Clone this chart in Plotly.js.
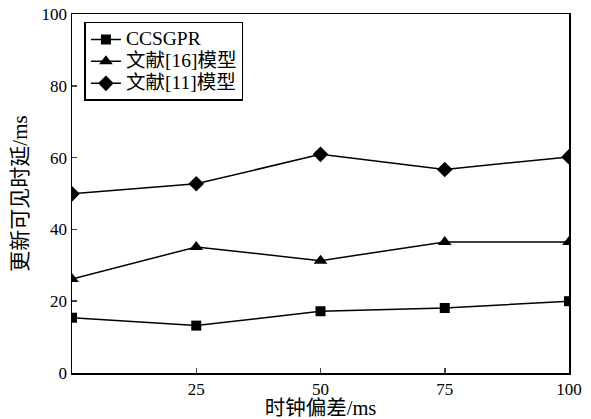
<!DOCTYPE html>
<html><head><meta charset="utf-8">
<script src="https://cdn.plot.ly/plotly-3.0.1.min.js"></script>
<style>html,body{margin:0;padding:0;background:#fff}</style>
</head><body>
<div id="chart" style="width:591px;height:419px"></div>
<script>
const xValues = [0, 25, 50, 75, 100];
const seriesNames = ["CCSGPR", "文献[16]模型", "文献[11]模型"];
const ccsgpr = [15.4, 13.2, 17.2, 18.1, 20.0];
const ref16 = [26.2, 35.1, 31.3, 36.5, 36.5];
const ref11 = [49.9, 52.7, 60.9, 56.7, 60.2];
const xTicks = [25, 50, 75, 100];
const yTicks = [0, 20, 40, 60, 80, 100];

const FONT = "'Liberation Serif', 'Times New Roman', 'Noto Sans CJK SC', serif";
const symbols = ["square", "triangle-up", "diamond"];
const sizes = [10, 12, 12];
const data = [ccsgpr, ref16, ref11].map((y, i) => ({
  x: xValues, y: y, type: "scatter", mode: "lines+markers",
  name: '<span style="font-size:19.5px">' + seriesNames[i] + '</span>',
  line: {color: "#000", width: 1.5},
  marker: {symbol: symbols[i], size: sizes[i], color: "#000"}
}));

const layout = {
  width: 591, height: 419,
  margin: {l: 72, r: 22, t: 14, b: 46},
  paper_bgcolor: "#fff", plot_bgcolor: "#fff",
  font: {family: FONT, size: 16, color: "#000"},
  showlegend: true,
  legend: {x: 0.025, y: 0.978, xanchor: "left", yanchor: "top",
    bordercolor: "#000", borderwidth: 1.5, bgcolor: "#fff",
    font: {family: FONT, size: 14.6}, tracegroupgap: 0, itemwidth: 30},
  xaxis: {range: [0, 100], tickvals: xTicks, ticktext: xTicks.map(String),
    ticks: "inside", ticklen: 5, tickwidth: 1.5, showgrid: false, zeroline: false,
    showline: true, linecolor: "#000", linewidth: 1.5, mirror: true,
    title: {text: "时钟偏差/ms", font: {family: FONT, size: 20.5}, standoff: 1},
    tickfont: {family: FONT, size: 17}},
  yaxis: {range: [0, 100], tickvals: yTicks, ticktext: yTicks.map(String),
    ticks: "inside", ticklen: 5, tickwidth: 1.5, showgrid: false, zeroline: false,
    showline: true, linecolor: "#000", linewidth: 1.5, mirror: true,
    title: {text: "更新可见时延/ms", font: {family: FONT, size: 21}, standoff: 8},
    tickfont: {family: FONT, size: 17}}
};
Plotly.newPlot("chart", data, layout, {staticPlot: true, displayModeBar: false});
</script>
</body></html>
